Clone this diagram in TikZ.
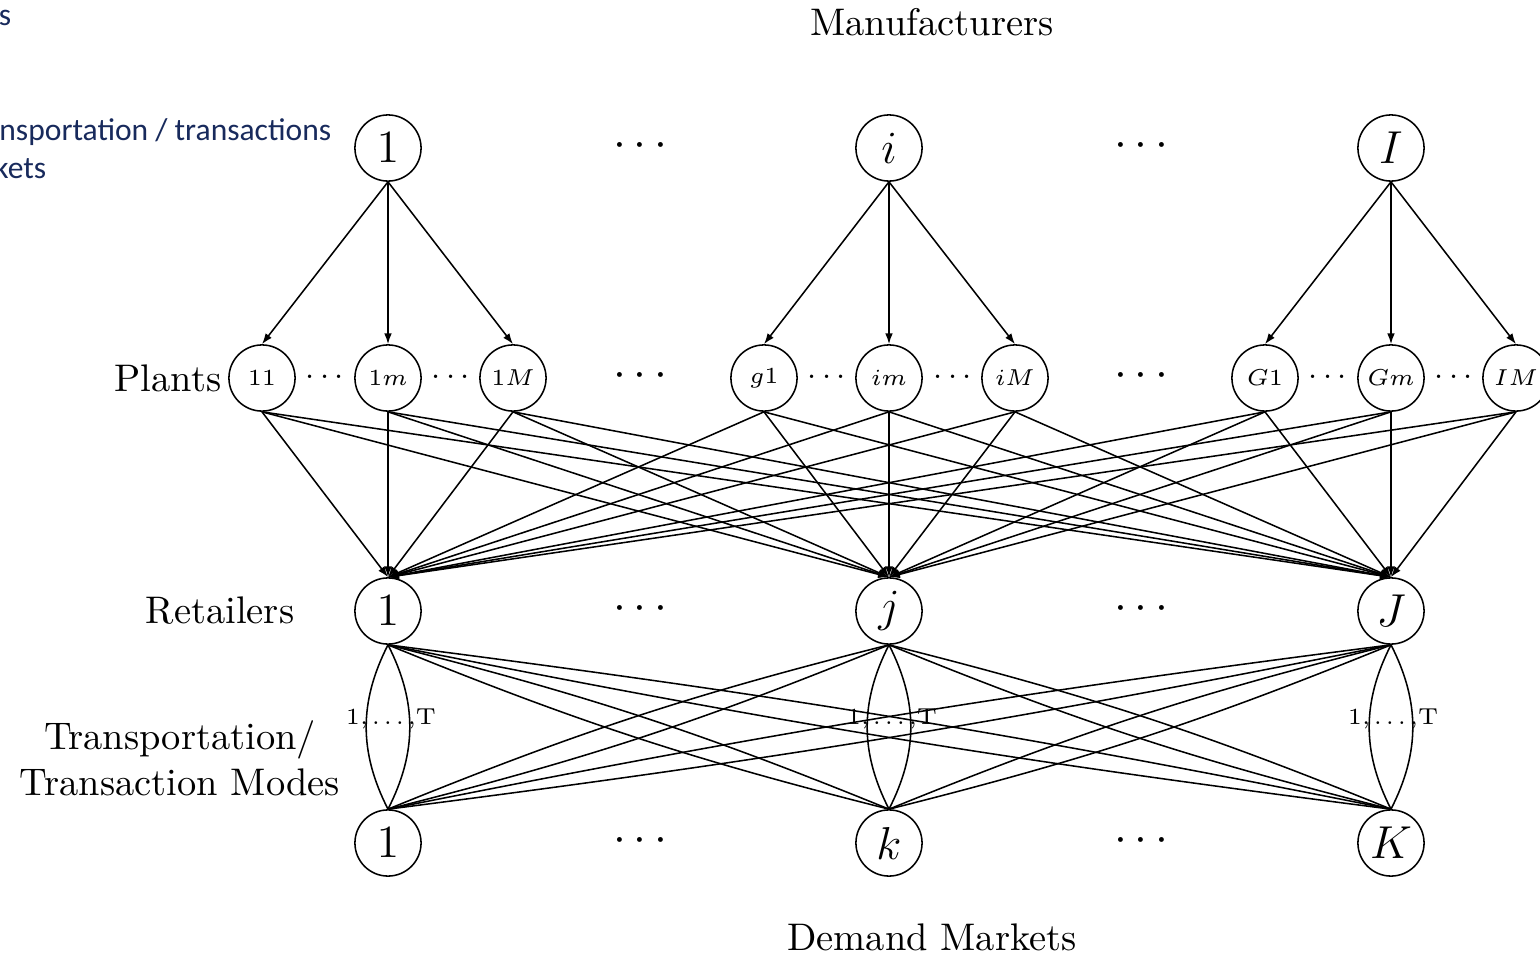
\documentclass[tikz,border=0pt]{standalone}
\usepackage{fontspec}
\newfontfamily\calib{Carlito}
\usetikzlibrary{arrows.meta}
\definecolor{navy}{RGB}{24,42,92}
\begin{document}
\begin{tikzpicture}[x=0.26pt,y=-0.26pt,
  nd/.style={circle,draw,line width=0.4pt,minimum size=17.2pt,inner sep=0pt},
  big/.style={font=\fontsize{12.5}{14}\selectfont},
  small/.style={font=\fontsize{6.2}{7}\selectfont},
  sdots/.style={font=\fontsize{8}{9}\selectfont},
  modes/.style={font=\fontsize{6}{7}\selectfont,inner sep=0pt},
  lab/.style={font=\fontsize{10}{12}\selectfont,inner sep=0pt},
  navytext/.style={text=navy,font=\calib\fontsize{8.2}{10}\selectfont,anchor=base east,inner sep=0pt},
  ln/.style={line width=0.4pt},
  arr/.style={ln,-{Latex[length=2.8pt,width=2pt]}},
]
\useasboundingbox (0,0) rectangle (1540,953);

% manufacturers
\node[nd,big] (m1) at (388,148) {$1$};
\node[nd,big] (mi) at (889,148) {$i$};
\node[nd,big] (mI) at (1391,148) {$I$};
\node[big] (mdA) at (640,146) {$\cdots$};
\node[big] (mdB) at (1141,146) {$\cdots$};

% plants
\foreach \n/\x/\l in {p11/262/11, p1m/388/1m, p1M/513/1M, pg1/764/g1, pim/889/im, piM/1015/iM, pG1/1265/G1, pGm/1391/Gm, pIM/1516/IM}
  \node[nd,small] (\n) at (\x,378) {$\l$};
\foreach \x [count=\i] in {325,451,827,953,1328,1454}
  \node[sdots] (psd\i) at (\x,377) {$\cdots$};
\node[big] (pdA) at (640,376) {$\cdots$};
\node[big] (pdB) at (1141,376) {$\cdots$};

% retailers
\node[nd,big] (r1) at (388,611) {$1$};
\node[nd,big] (rj) at (889,611) {$j$};
\node[nd,big] (rJ) at (1391,611) {$J$};
\node[big] (rdA) at (640,609) {$\cdots$};
\node[big] (rdB) at (1141,609) {$\cdots$};

% demand markets
\node[nd,big] (d1) at (388,843) {$1$};
\node[nd,big] (dk) at (889,843) {$k$};
\node[nd,big] (dK) at (1391,843) {$K$};
\node[big] (ddA) at (640,841) {$\cdots$};
\node[big] (ddB) at (1141,841) {$\cdots$};

% manufacturer -> plant
\foreach \m/\a/\b/\c in {m1/p11/p1m/p1M, mi/pg1/pim/piM, mI/pG1/pGm/pIM} {
  \draw[arr] (\m.south) -- (\a.north);
  \draw[arr] (\m.south) -- (\b.north);
  \draw[arr] (\m.south) -- (\c.north);
}

% plant -> retailer
\foreach \p in {p11,p1m,p1M,pg1,pim,piM,pG1,pGm,pIM}
  \foreach \r in {r1,rj,rJ}
    \draw[arr] (\p.south) -- (\r.north);

% retailer -> demand (modes)
\foreach \r/\d/\ang in {r1/d1/27, rj/dk/27, rJ/dK/27, r1/dk/4, rj/d1/4, rj/dK/4, rJ/dk/4, r1/dK/2, rJ/d1/2} {
  \draw[ln] (\r.south) to[bend left=\ang] (\d.north);
  \draw[ln] (\r.south) to[bend right=\ang] (\d.north);
}
\node[modes] (tA) at (391,719) {1,\,.\,.\,.\,,T};
\node[modes] (tB) at (892,719) {1,\,.\,.\,.\,,T};
\node[modes] (tC) at (1393,719) {1,\,.\,.\,.\,,T};

% labels
\node[lab,anchor=east] (lp) at (222,378) {Plants};
\node[lab,anchor=east] (lr) at (295,611) {Retailers};
\node[lab,align=center] (lt) at (180,758) {Transportation/\\Transaction Modes};
\node[lab] (lm) at (932,22) {Manufacturers};
\node[lab,anchor=base] (ld) at (932,950) {Demand Markets};

% overlay text (navy)
\node[navytext] (n1) at (12,25) {s};
\node[navytext] (n2) at (332,140) {nsportation / transactions};
\node[navytext] (n3) at (47,178) {kets};
\end{tikzpicture}
\end{document}
